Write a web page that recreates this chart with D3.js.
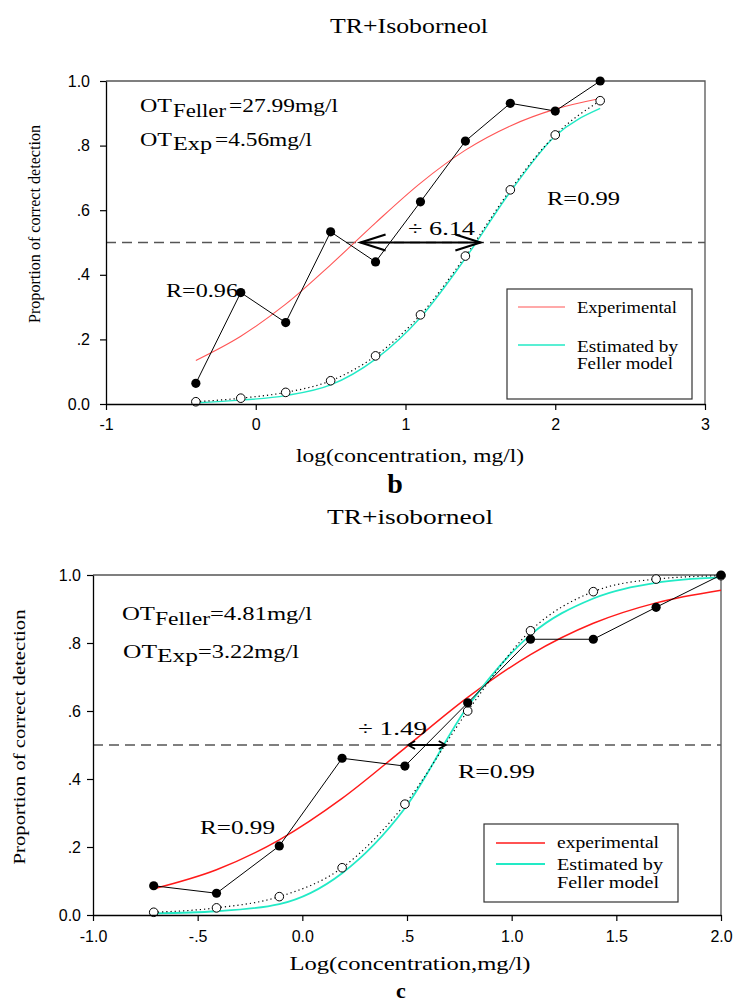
<!DOCTYPE html>
<html>
<head>
<meta charset="utf-8">
<script src="https://cdn.jsdelivr.net/npm/d3@7"></script>
<style>
  body { margin: 0; background: #fff; }
  svg { display: block; }
</style>
</head>
<body>
<svg id="chart"></svg>
<script>
// ---- panel b : TR+Isoborneol ----
const logConcB = [-0.40, -0.10, 0.20, 0.50, 0.80, 1.10, 1.40, 1.70, 2.00, 2.30];
const expPointsB = [0.064, 0.345, 0.252, 0.533, 0.440, 0.626, 0.814, 0.931, 0.907, 1.000];
const estPointsB = [0.007, 0.018, 0.036, 0.072, 0.149, 0.276, 0.458, 0.663, 0.833, 0.939];
const expCurveB = [0.135, 0.210, 0.309, 0.431, 0.561, 0.684, 0.786, 0.861, 0.913, 0.946];
const fellerCurveB = [0.004, 0.012, 0.026, 0.059, 0.139, 0.268, 0.451, 0.657, 0.830, 0.915];
const arrowB = [0.70, 1.50];

// ---- panel c : TR+isoborneol ----
const logConcC = [-0.71, -0.41, -0.11, 0.19, 0.49, 0.79, 1.09, 1.39, 1.69, 2.00];
const expPointsC = [0.086, 0.064, 0.203, 0.461, 0.438, 0.624, 0.811, 0.811, 0.905, 1.000];
const estPointsC = [0.008, 0.021, 0.054, 0.139, 0.326, 0.600, 0.836, 0.951, 0.988, 0.998];
const expCurveC = [0.077, 0.133, 0.221, 0.343, 0.491, 0.640, 0.766, 0.858, 0.918, 0.955];
const fellerCurveC = [0.005, 0.011, 0.032, 0.123, 0.314, 0.613, 0.824, 0.931, 0.977, 0.993];
const arrowC = [0.505, 0.685];

// ticks
const yTicks = [0, 0.2, 0.4, 0.6, 0.8, 1.0];
const yTickLabels = ["0.0", ".2", ".4", ".6", ".8", "1.0"];
const xTicksB = [-1, 0, 1, 2, 3];
const xTickLabelsB = ["-1", "0", "1", "2", "3"];
const xTicksC = [-1, -0.5, 0, 0.5, 1, 1.5, 2];
const xTickLabelsC = ["-1.0", "-.5", "0.0", ".5", "1.0", "1.5", "2.0"];

const width = 739, height = 1003;
const serif = "'Liberation Serif','Times New Roman',serif";
const sans = "'Liberation Sans',Arial,sans-serif";

const svg = d3.select("#chart")
  .attr("width", width)
  .attr("height", height)
  .attr("viewBox", `0 0 ${width} ${height}`);

function txt(x, y, s, size, len) {
  const t = svg.append("text")
    .attr("x", x).attr("y", y)
    .attr("font-family", serif)
    .attr("font-size", size)
    .attr("fill", "#000")
    .text(s);
  if (len) t.attr("textLength", len).attr("lengthAdjust", "spacingAndGlyphs");
  return t;
}

function drawPanel(p) {
  const x = p.x, y = p.y;
  const [x0, x1] = x.range(), [y0, y1] = y.range();
  const g = svg.append("g");

  // top / right frame
  g.append("path")
    .attr("d", `M${x0},${y1}H${x1}V${y0}`)
    .attr("fill", "none").attr("stroke", "#555").attr("stroke-width", 1.3);

  // 0.5 dashed line
  g.append("line")
    .attr("x1", x0).attr("x2", x1)
    .attr("y1", y(0.5)).attr("y2", y(0.5))
    .attr("stroke", "#555").attr("stroke-width", 1.3)
    .attr("stroke-dasharray", "10,6");

  const line = arr => d3.line()
    .x((d, i) => x(p.xs[i]))
    .y(d => y(d))
    .curve(d3.curveMonotoneX)(arr);

  g.append("path").attr("d", line(p.expCurve))
    .attr("fill", "none").attr("stroke", p.red).attr("stroke-width", p.curveW);
  g.append("path").attr("d", line(p.fellerCurve))
    .attr("fill", "none").attr("stroke", "#22eac6").attr("stroke-width", p.curveW + 0.3);
  g.append("path").attr("d", line(p.estPoints))
    .attr("fill", "none").attr("stroke", "#000").attr("stroke-width", 1.2)
    .attr("stroke-dasharray", "1.2,3");

  g.append("path")
    .attr("d", d3.line().x((d, i) => x(p.xs[i])).y(d => y(d))(p.expPoints))
    .attr("fill", "none").attr("stroke", "#000").attr("stroke-width", 1);

  g.selectAll(".open").data(p.estPoints).join("circle")
    .attr("cx", (d, i) => x(p.xs[i])).attr("cy", d => y(d))
    .attr("r", 4.3).attr("fill", "#fff").attr("stroke", "#000").attr("stroke-width", 1);
  g.selectAll(".filled").data(p.expPoints).join("circle")
    .attr("cx", (d, i) => x(p.xs[i])).attr("cy", d => y(d))
    .attr("r", 4.6).attr("fill", "#000");

  // axes
  const ax = g.append("g")
    .attr("transform", `translate(0,${y0})`)
    .call(d3.axisBottom(x).tickValues(p.xTicks)
      .tickFormat((d, i) => p.xTickLabels[i])
      .tickSize(6).tickSizeOuter(0).tickPadding(p.xPad));
  const ay = g.append("g")
    .attr("transform", `translate(${x0},0)`)
    .call(d3.axisLeft(y).tickValues(yTicks)
      .tickFormat((d, i) => yTickLabels[i])
      .tickSize(6).tickSizeOuter(0).tickPadding(p.yPad));
  [ax, ay].forEach(a => {
    a.attr("font-family", sans).attr("font-size", 16);
    a.select(".domain").attr("stroke", "#000").attr("stroke-width", 1.3);
    a.selectAll(".tick line").attr("stroke", "#000").attr("stroke-width", 1.2);
    a.selectAll(".tick text").attr("fill", "#000");
  });
}

// ---- panel b ----
const xb = d3.scaleLinear().domain([-1, 3]).range([106, 705]);
const yb = d3.scaleLinear().domain([0, 1]).range([404, 81]);
drawPanel({
  x: xb, y: yb, xs: logConcB,
  expPoints: expPointsB, estPoints: estPointsB,
  expCurve: expCurveB, fellerCurve: fellerCurveB,
  xTicks: xTicksB, xTickLabels: xTickLabelsB,
  red: "#ff5555", curveW: 1.1, xPad: 9, yPad: 10
});

// open arrow between thresholds
{
  const ya = yb(0.5), a0 = xb(arrowB[0]), a1 = xb(arrowB[1]);
  const g = svg.append("g").attr("fill", "none").attr("stroke", "#000").attr("stroke-width", 2.2);
  g.append("line").attr("x1", a0).attr("x2", a1).attr("y1", ya).attr("y2", ya);
  g.append("polyline").attr("points", `${a0 + 25},${ya - 8} ${a0},${ya} ${a0 + 25},${ya + 8}`);
  g.append("polyline").attr("points", `${a1 - 25},${ya - 8} ${a1},${ya} ${a1 - 25},${ya + 8}`);
}

txt(330, 33, "TR+Isoborneol", 20, 158);
txt(140, 112, "OT", 18, 32);
txt(173, 117, "Feller", 18, 53);
txt(229, 112, "=27.99mg/l", 18, 109);
txt(140, 146, "OT", 18, 32);
txt(173, 150, "Exp", 18, 39);
txt(215, 146, "=4.56mg/l", 18, 97);
txt(547, 205, "R=0.99", 18, 73);
txt(408, 235, "\u00f7 6.14", 18, 67);
txt(166, 297, "R=0.96", 18, 72);
txt(410, 462, "log(concentration, mg/l)", 18, 228).attr("text-anchor", "middle");
txt(395, 493, "b", 28).attr("text-anchor", "middle").attr("font-weight", "bold");
svg.append("text")
  .attr("transform", "translate(40,224) rotate(-90)")
  .attr("text-anchor", "middle")
  .attr("font-family", serif).attr("font-size", 16)
  .attr("textLength", 198).attr("lengthAdjust", "spacingAndGlyphs")
  .text("Proportion of correct detection");

// legend b
{
  const g = svg.append("g");
  g.append("rect").attr("x", 507).attr("y", 289).attr("width", 185).attr("height", 110)
    .attr("fill", "#fff").attr("stroke", "#333").attr("stroke-width", 1.2);
  g.append("line").attr("x1", 518).attr("x2", 565).attr("y1", 307).attr("y2", 307)
    .attr("stroke", "#ff5555").attr("stroke-width", 1.1);
  g.append("line").attr("x1", 518).attr("x2", 565).attr("y1", 345).attr("y2", 345)
    .attr("stroke", "#22eac6").attr("stroke-width", 1.4);
  txt(577, 313, "Experimental", 17, 100);
  txt(577, 352, "Estimated by", 17, 101);
  txt(577, 369, "Feller model", 17, 96);
}

// ---- panel c ----
const xc = d3.scaleLinear().domain([-1, 2]).range([93, 721]);
const yc = d3.scaleLinear().domain([0, 1]).range([915, 575]);
drawPanel({
  x: xc, y: yc, xs: logConcC,
  expPoints: expPointsC, estPoints: estPointsC,
  expCurve: expCurveC, fellerCurve: fellerCurveC,
  xTicks: xTicksC, xTickLabels: xTickLabelsC,
  red: "#ff1a1a", curveW: 1.5, xPad: 10, yPad: 6
});

// small double arrow
{
  const ya = yc(0.5), a0 = xc(arrowC[0]), a1 = xc(arrowC[1]);
  const g = svg.append("g").attr("fill", "none").attr("stroke", "#000").attr("stroke-width", 1.8);
  g.append("line").attr("x1", a0).attr("x2", a1).attr("y1", ya).attr("y2", ya);
  g.append("polyline").attr("points", `${a0 + 7},${ya - 4} ${a0},${ya} ${a0 + 7},${ya + 4}`);
  g.append("polyline").attr("points", `${a1 - 7},${ya - 4} ${a1},${ya} ${a1 - 7},${ya + 4}`);
}

txt(327, 524, "TR+isoborneol", 20, 166);
txt(122, 620, "OT", 18, 33);
txt(155, 625, "Feller", 18, 55);
txt(210, 620, "=4.81mg/l", 18, 102);
txt(123, 658, "OT", 18, 34);
txt(157, 662, "Exp", 18, 41);
txt(198, 658, "=3.22mg/l", 18, 101);
txt(358, 735, "\u00f7 1.49", 18, 69);
txt(458, 778, "R=0.99", 18, 77);
txt(200, 834, "R=0.99", 18, 75);
txt(410, 970, "Log(concentration,mg/l)", 18, 241).attr("text-anchor", "middle");
txt(401, 998, "c", 22).attr("text-anchor", "middle").attr("font-weight", "bold");
svg.append("text")
  .attr("transform", "translate(25,737) rotate(-90)")
  .attr("text-anchor", "middle")
  .attr("font-family", serif).attr("font-size", 16)
  .attr("textLength", 255).attr("lengthAdjust", "spacingAndGlyphs")
  .text("Proportion of correct detection");

// legend c
{
  const g = svg.append("g");
  g.append("rect").attr("x", 484).attr("y", 824).attr("width", 194).attr("height", 78)
    .attr("fill", "#fff").attr("stroke", "#333").attr("stroke-width", 1.2);
  g.append("line").attr("x1", 496).attr("x2", 545).attr("y1", 843).attr("y2", 843)
    .attr("stroke", "#ff1a1a").attr("stroke-width", 1.5);
  g.append("line").attr("x1", 496).attr("x2", 545).attr("y1", 864).attr("y2", 864)
    .attr("stroke", "#22eac6").attr("stroke-width", 1.8);
  txt(557, 848, "experimental", 17, 102);
  txt(557, 870, "Estimated by", 17, 106);
  txt(557, 888, "Feller model", 17, 102);
}
</script>
</body>
</html>
